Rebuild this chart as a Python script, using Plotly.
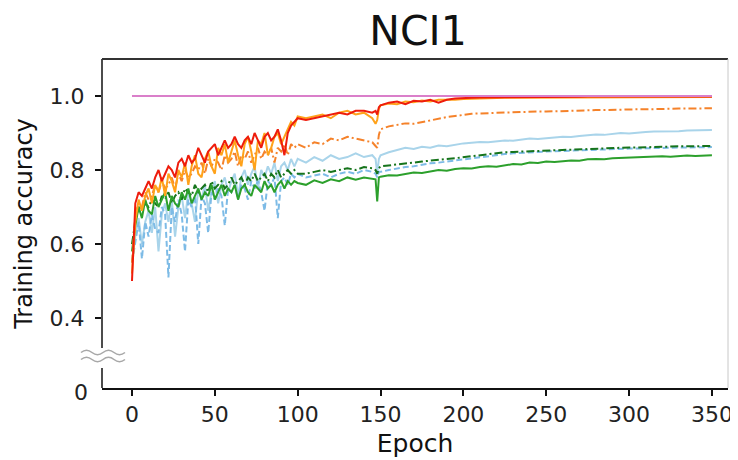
import plotly.graph_objects as go

# ---------------- data ----------------
EPOCHS = (list(range(0, 101, 2)) + list(range(105, 146, 5)) + [147, 148, 149]
          + list(range(150, 351, 5)))

PINK_EPOCHS = [0, 350]
PINK = [1.0, 1.0]

RED = [0.50, 0.71, 0.74, 0.73, 0.75, 0.77, 0.75, 0.78, 0.80, 0.77, 0.79, 0.81, 0.80, 0.78, 0.82, 0.83,
       0.81, 0.84, 0.82, 0.83, 0.86, 0.84, 0.82, 0.85, 0.86, 0.87, 0.84, 0.86, 0.88, 0.86, 0.87, 0.89,
       0.87, 0.86, 0.88, 0.89, 0.87, 0.90, 0.88, 0.86, 0.89, 0.90, 0.88, 0.89, 0.91, 0.88, 0.84, 0.90,
       0.92, 0.93, 0.94,
       0.935, 0.94, 0.945, 0.95, 0.955, 0.95, 0.96, 0.96, 0.955,
       0.96, 0.95, 0.97,
       0.975, 0.982, 0.985, 0.978, 0.987, 0.985, 0.99, 0.982, 0.99, 0.993, 0.995, 0.995, 0.996, 0.996,
       0.997, 0.997, 0.997, 0.998, 0.998, 0.998, 0.998, 0.998, 0.998, 0.998, 0.998, 0.999, 0.999, 0.999,
       0.999, 0.999, 0.999, 0.999, 0.999, 0.999, 0.999, 0.999, 0.999, 0.999, 0.999, 0.999, 0.999]

ORANGE = [0.52, 0.66, 0.72, 0.69, 0.73, 0.75, 0.71, 0.76, 0.74, 0.78, 0.73, 0.79, 0.77, 0.74, 0.80, 0.78,
          0.82, 0.76, 0.81, 0.84, 0.79, 0.78, 0.83, 0.85, 0.81, 0.79, 0.86, 0.84, 0.87, 0.82, 0.85, 0.88,
          0.84, 0.81, 0.87, 0.89, 0.85, 0.80, 0.88, 0.87, 0.90, 0.84, 0.86, 0.89, 0.90, 0.87, 0.89, 0.91,
          0.93, 0.92, 0.945,
          0.94, 0.945, 0.95, 0.94, 0.955, 0.96, 0.95, 0.955, 0.94,
          0.925, 0.935, 0.965,
          0.975, 0.98, 0.978, 0.985, 0.983, 0.988, 0.985, 0.99, 0.989, 0.99, 0.992, 0.993, 0.993, 0.994,
          0.994, 0.995, 0.995, 0.995, 0.995, 0.996, 0.996, 0.996, 0.996, 0.996, 0.996, 0.997, 0.997, 0.997,
          0.997, 0.997, 0.997, 0.997, 0.997, 0.997, 0.997, 0.997, 0.997, 0.997, 0.997, 0.997, 0.997]

ORANGE_DASH = [0.55, 0.68, 0.71, 0.70, 0.74, 0.72, 0.73, 0.76, 0.74, 0.77, 0.75, 0.76, 0.78, 0.75, 0.79, 0.77,
               0.80, 0.78, 0.79, 0.81, 0.80, 0.82, 0.79, 0.83, 0.81, 0.83, 0.82, 0.80, 0.84, 0.82, 0.83, 0.85,
               0.81, 0.84, 0.83, 0.85, 0.82, 0.84, 0.86, 0.83, 0.85, 0.84, 0.86, 0.82, 0.86, 0.85, 0.87, 0.84,
               0.87, 0.86, 0.87,
               0.86, 0.875, 0.87, 0.885, 0.88, 0.89, 0.885, 0.88, 0.875,
               0.865, 0.86, 0.895,
               0.91, 0.918, 0.922, 0.926, 0.925, 0.93, 0.935, 0.94, 0.943, 0.946, 0.95, 0.952, 0.953, 0.954,
               0.955, 0.956, 0.956, 0.957, 0.957, 0.958, 0.958, 0.959, 0.96, 0.96, 0.961, 0.961, 0.962, 0.962,
               0.963, 0.963, 0.964, 0.964, 0.964, 0.965, 0.965, 0.965, 0.966, 0.966, 0.966, 0.967, 0.967]

LIGHT_BLUE = [0.55, 0.62, 0.67, 0.60, 0.66, 0.69, 0.63, 0.70, 0.58, 0.68, 0.71, 0.66, 0.72, 0.62, 0.70, 0.73,
              0.67, 0.74, 0.71, 0.66, 0.75, 0.72, 0.76, 0.69, 0.74, 0.77, 0.71, 0.76, 0.78, 0.74, 0.77, 0.79,
              0.73, 0.78, 0.80, 0.76, 0.79, 0.81, 0.75, 0.80, 0.78, 0.81, 0.79, 0.82, 0.77, 0.81, 0.82, 0.80,
              0.83, 0.81, 0.83,
              0.82, 0.835, 0.825, 0.84, 0.83, 0.835, 0.845, 0.835, 0.84,
              0.83, 0.79, 0.83,
              0.84, 0.848, 0.855, 0.86, 0.857, 0.863, 0.86, 0.866, 0.864, 0.869, 0.872, 0.874, 0.876, 0.875,
              0.878, 0.88, 0.879, 0.882, 0.885, 0.884, 0.887, 0.888, 0.89, 0.889, 0.892, 0.894, 0.896, 0.895,
              0.898, 0.90, 0.899, 0.902, 0.903, 0.904, 0.904, 0.906, 0.905, 0.907, 0.907, 0.908, 0.908]

SKY_BLUE = [0.55, 0.60, 0.66, 0.56, 0.66, 0.62, 0.68, 0.64, 0.63, 0.70, 0.68, 0.51, 0.70, 0.66, 0.72, 0.68,
            0.58, 0.72, 0.70, 0.73, 0.60, 0.73, 0.71, 0.63, 0.74, 0.72, 0.75, 0.73, 0.65, 0.75, 0.74, 0.76,
            0.72, 0.76, 0.75, 0.72, 0.77, 0.75, 0.77, 0.74, 0.69, 0.77, 0.76, 0.78, 0.67, 0.77, 0.78, 0.76,
            0.79, 0.78, 0.79,
            0.78, 0.785, 0.79, 0.78, 0.79, 0.795, 0.79, 0.80, 0.795,
            0.79, 0.78, 0.795,
            0.795, 0.80, 0.805, 0.808, 0.81, 0.815, 0.818, 0.82, 0.823, 0.826, 0.83, 0.833, 0.836, 0.839,
            0.841, 0.843, 0.845, 0.847, 0.848, 0.849, 0.85, 0.851, 0.852, 0.853, 0.854, 0.855, 0.855, 0.856,
            0.857, 0.857, 0.858, 0.858, 0.859, 0.859, 0.86, 0.86, 0.861, 0.861, 0.862, 0.862, 0.862]

DARK_GREEN = [0.60, 0.66, 0.70, 0.69, 0.71, 0.70, 0.72, 0.71, 0.70, 0.73, 0.72, 0.74, 0.71, 0.73, 0.74, 0.72,
              0.75, 0.74, 0.73, 0.76, 0.74, 0.75, 0.76, 0.74, 0.77, 0.75, 0.76, 0.77, 0.75, 0.76, 0.78, 0.76,
              0.77, 0.78, 0.76, 0.78, 0.77, 0.79, 0.77, 0.78, 0.79, 0.77, 0.79, 0.78, 0.80, 0.78, 0.79, 0.80,
              0.79, 0.80, 0.79,
              0.79, 0.795, 0.80, 0.795, 0.80, 0.805, 0.80, 0.808, 0.805,
              0.80, 0.79, 0.805,
              0.81, 0.812, 0.815, 0.818, 0.82, 0.823, 0.826, 0.828, 0.83, 0.832, 0.835, 0.838, 0.841, 0.844,
              0.847, 0.848, 0.849, 0.85, 0.851, 0.852, 0.853, 0.854, 0.855, 0.856, 0.857, 0.858, 0.858, 0.859,
              0.86, 0.86, 0.861, 0.861, 0.862, 0.862, 0.863, 0.863, 0.864, 0.864, 0.864, 0.865, 0.865]

GREEN = [0.58, 0.65, 0.70, 0.67, 0.72, 0.69, 0.68, 0.73, 0.70, 0.72, 0.74, 0.69, 0.73, 0.71, 0.70, 0.74,
         0.72, 0.75, 0.71, 0.73, 0.75, 0.72, 0.74, 0.73, 0.76, 0.72, 0.74, 0.76, 0.73, 0.75, 0.74, 0.76,
         0.72, 0.75, 0.76, 0.74, 0.73, 0.76, 0.75, 0.74, 0.77, 0.75, 0.76, 0.74, 0.76, 0.77, 0.75, 0.77,
         0.76, 0.77, 0.765,
         0.76, 0.772, 0.765, 0.775, 0.77, 0.78, 0.774, 0.78, 0.776,
         0.775, 0.715, 0.78,
         0.782, 0.786, 0.785, 0.79, 0.793, 0.792, 0.797, 0.80, 0.798, 0.803, 0.805, 0.804, 0.808, 0.81,
         0.809, 0.813, 0.816, 0.815, 0.82, 0.819, 0.823, 0.822, 0.825, 0.826, 0.825, 0.829, 0.83, 0.829,
         0.832, 0.833, 0.832, 0.835, 0.834, 0.836, 0.837, 0.836, 0.838, 0.839, 0.838, 0.84, 0.84]

for _s in (RED, ORANGE, ORANGE_DASH, LIGHT_BLUE, SKY_BLUE, DARK_GREEN, GREEN):
    assert len(_s) == len(EPOCHS), (len(_s), len(EPOCHS))

Y_TICKS = [0.4, 0.6, 0.8, 1.0]
Y_TICK_TEXT = ["0.4", "0.6", "0.8", "1.0"]
X_TICKS = [0, 50, 100, 150, 200, 250, 300, 350]

# ---------------- figure ----------------
Y_MIN, Y_MAX = 0.211, 1.1
X_MIN, X_MAX = -18.1, 359.7
BREAK_LO, BREAK_HI = 0.265, 0.319

FONT = "DejaVu Sans"

# The page body adds an 8px offset; the figure is sized to fill the rest of the window.
OFF = 8
W, H = 738 - OFF, 460 - OFF
# plot area edges in window pixels
PLOT_L, PLOT_R, PLOT_T, PLOT_B = 102, 728, 59, 388

fig = go.Figure()

series = [
    (LIGHT_BLUE, "#a9d4ea", "solid", 2),
    (SKY_BLUE, "#7dbbe6", "6px,3px", 2),
    (DARK_GREEN, "#16741c", "8px,3px,2px,3px", 2),
    (GREEN, "#2ca02c", "solid", 2),
    (ORANGE_DASH, "#f5822a", "8px,3px,2px,3px", 2),
    (ORANGE, "#ffa21a", "solid", 2),
    (RED, "#ee1c0c", "solid", 2),
]
for ys, color, dash, w in series:
    fig.add_trace(go.Scatter(x=EPOCHS, y=ys, mode="lines",
                             line=dict(color=color, width=w, dash=dash),
                             showlegend=False, hoverinfo="skip"))
fig.add_trace(go.Scatter(x=PINK_EPOCHS, y=PINK, mode="lines",
                         line=dict(color="#da7fca", width=2), showlegend=False))

shapes = [
    dict(type="line", xref="paper", yref="y", x0=0, x1=0, y0=BREAK_HI, y1=Y_MAX,
         line=dict(color="#111", width=1.5)),
    dict(type="line", xref="paper", yref="y", x0=0, x1=0, y0=Y_MIN, y1=BREAK_LO,
         line=dict(color="#111", width=1.5)),
    dict(type="line", xref="paper", yref="paper", x0=0, x1=1, y0=1, y1=1,
         line=dict(color="#333", width=2)),
    dict(type="line", xref="paper", yref="paper", x0=1, x1=1, y0=0, y1=1,
         line=dict(color="#c8c8c8", width=1)),
]

def px_to_paper(px, py):
    return (px - PLOT_L) / (PLOT_R - PLOT_L), (PLOT_B - py) / (PLOT_B - PLOT_T)

for yc in (352.5, 359.5):
    x0 = 81
    seg = 11
    amp = 3.2
    p0 = px_to_paper(x0, yc)
    path = f"M {p0[0]:.5f},{p0[1]:.5f}"
    for k in range(4):
        xa = x0 + seg * k
        sign = -1 if k % 2 == 0 else 1
        c1 = px_to_paper(xa + seg * 0.35, yc + sign * amp)
        c2 = px_to_paper(xa + seg * 0.65, yc + sign * amp)
        e = px_to_paper(xa + seg, yc)
        path += f" C {c1[0]:.5f},{c1[1]:.5f} {c2[0]:.5f},{c2[1]:.5f} {e[0]:.5f},{e[1]:.5f}"
    shapes.append(dict(type="path", xref="paper", yref="paper", path=path,
                       line=dict(color="#a8a8a8", width=1.6)))

fig.update_layout(
    width=W, height=H,
    margin=dict(l=PLOT_L - OFF, r=738 - PLOT_R, t=PLOT_T - OFF, b=460 - PLOT_B, autoexpand=False),
    paper_bgcolor="white", plot_bgcolor="white",
    font=dict(family=FONT, size=22, color="#222"),
    title=dict(text="NCI1", x=(418 - OFF) / W, xanchor="center", xref="container",
               y=1 - 23 / H, yanchor="middle", font=dict(family=FONT, size=41, color="#111")),
    shapes=shapes,
    annotations=[dict(text="0", xref="paper", yref="y", x=0, y=Y_MIN, xanchor="right",
                      yanchor="middle", xshift=-12, yshift=-4, showarrow=False,
                      font=dict(family=FONT, size=22, color="#222"))],
    xaxis=dict(range=[X_MIN, X_MAX], tickvals=X_TICKS, ticks="outside", ticklen=6,
               tickwidth=1.5, tickcolor="#111", showline=True, linecolor="#111", linewidth=1.5,
               showgrid=False, zeroline=False, automargin=False,
               title=dict(text="Epoch", font=dict(family=FONT, size=25, color="#111"), standoff=8)),
    yaxis=dict(range=[Y_MIN, Y_MAX], tickvals=Y_TICKS, ticktext=Y_TICK_TEXT, ticks="outside",
               ticklen=6, tickwidth=1.5, tickcolor="#111", showline=False, showgrid=False,
               zeroline=False, ticklabelstandoff=6, automargin=False,
               title=dict(text="Training accuracy", font=dict(family=FONT, size=24, color="#111"),
                          standoff=10)),
)

fig.write_html("out.html")
